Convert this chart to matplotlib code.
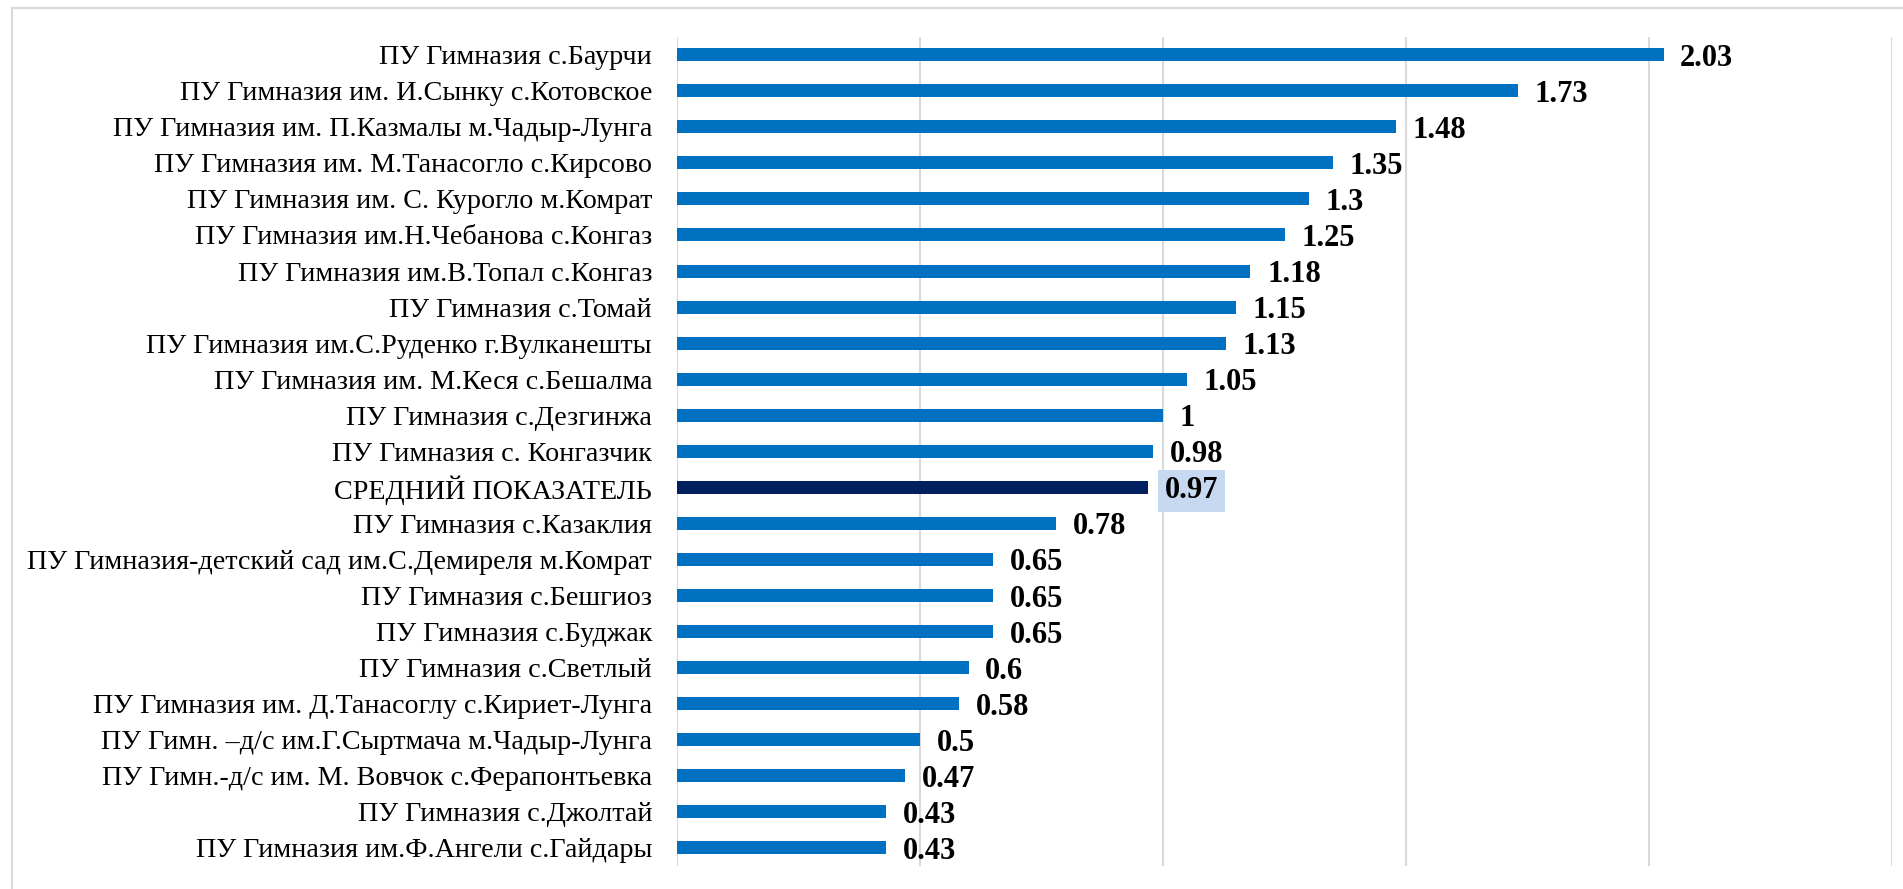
import matplotlib.pyplot as plt
from matplotlib.lines import Line2D

plt.rcParams['font.family'] = ['Liberation Serif', 'DejaVu Serif']

schools = ['ПУ Гимназия с.Баурчи',
           'ПУ Гимназия им. И.Сынку с.Котовское',
           'ПУ Гимназия им. П.Казмалы м.Чадыр-Лунга',
           'ПУ Гимназия им. М.Танасогло с.Кирсово',
           'ПУ Гимназия им. С. Курогло м.Комрат',
           'ПУ Гимназия им.Н.Чебанова с.Конгаз',
           'ПУ Гимназия им.В.Топал с.Конгаз',
           'ПУ Гимназия с.Томай',
           'ПУ Гимназия им.С.Руденко г.Вулканешты',
           'ПУ Гимназия им. М.Кеся с.Бешалма',
           'ПУ Гимназия с.Дезгинжа',
           'ПУ Гимназия с. Конгазчик',
           'СРЕДНИЙ ПОКАЗАТЕЛЬ',
           'ПУ Гимназия с.Казаклия',
           'ПУ Гимназия-детский сад им.С.Демиреля м.Комрат',
           'ПУ Гимназия с.Бешгиоз',
           'ПУ Гимназия с.Буджак',
           'ПУ Гимназия с.Светлый',
           'ПУ Гимназия им. Д.Танасоглу с.Кириет-Лунга',
           'ПУ Гимн. –д/с им.Г.Сыртмача м.Чадыр-Лунга',
           'ПУ Гимн.-д/с им. М. Вовчок с.Ферапонтьевка',
           'ПУ Гимназия с.Джолтай',
           'ПУ Гимназия им.Ф.Ангели с.Гайдары']
values = [2.03, 1.73, 1.48, 1.35, 1.3, 1.25, 1.18, 1.15, 1.13, 1.05, 1, 0.98, 0.97,
          0.78, 0.65, 0.65, 0.65, 0.6, 0.58, 0.5, 0.47, 0.43, 0.43]
average_label = 'СРЕДНИЙ ПОКАЗАТЕЛЬ'

W, H = 1903, 889
fig = plt.figure(figsize=(W / 100, H / 100), dpi=100)

# chart area frame (left and top edges visible)
fig.add_artist(Line2D([12 / W, 12 / W], [0, 1 - 8 / H], color='#D9D9D9', lw=1.5))
fig.add_artist(Line2D([12 / W, 1], [1 - 8 / H, 1 - 8 / H], color='#D9D9D9', lw=1.5))

ax = fig.add_axes([677 / W, 1 - 866 / H, (1892 - 677) / W, (866 - 37) / H])

y = list(range(len(schools)))
colors = ['#002060' if s == average_label else '#0070C0' for s in schools]
ax.barh(y, values, height=0.36, color=colors, zorder=3)

ax.set_xlim(0, 2.5)
ax.set_ylim(22.5, -0.49)
ax.set_xticks([0, 0.5, 1, 1.5, 2, 2.5])
ax.xaxis.grid(True, color='#D9D9D9', lw=1.5)
ax.tick_params(axis='x', length=0, labelbottom=False)
ax.set_yticks(y)
ax.set_yticklabels(schools, fontsize=20.25)
ax.tick_params(axis='y', length=0, pad=18)
for sp in ax.spines.values():
    sp.set_visible(False)

for i, (s, v) in enumerate(zip(schools, values)):
    kw = {}
    if s == average_label:
        kw['bbox'] = dict(boxstyle='square,pad=0.22', fc='#C6D9F0', ec='none')
    ax.annotate('{:g}'.format(v), (v, i), xytext=(12, -2.5), textcoords='offset points',
                ha='left', va='center', fontsize=22, fontweight='bold', zorder=4, **kw)

fig.savefig('out.png', dpi=100)
